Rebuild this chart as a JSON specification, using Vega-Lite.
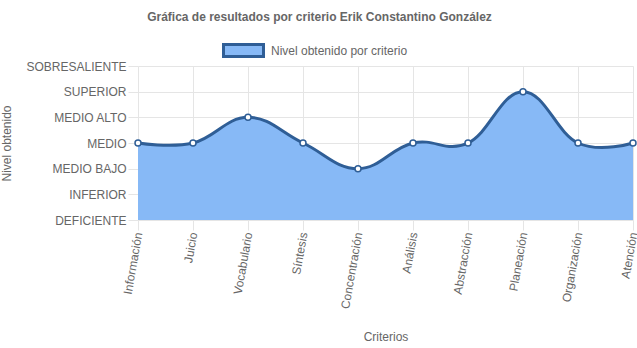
{
  "$schema": "https://vega.github.io/schema/vega-lite/v6.json",
  "width": 495,
  "height": 154,
  "autosize": {"type": "none"},
  "padding": {"left": 138, "top": 66, "right": 4, "bottom": 128},
  "background": "white",
  "config": {
    "font": "Liberation Sans",
    "view": {"stroke": null},
    "axis": {"labelColor": "#666", "titleColor": "#666", "labelFontSize": 12, "titleFontSize": 12, "titleFontWeight": "normal", "gridColor": "#e5e5e5", "tickColor": "#e5e5e5", "domain": false}
  },
  "title": {"text": "Gráfica de resultados por criterio Erik Constantino González", "fontSize": 12, "fontWeight": "bold", "color": "#666", "offset": 5, "dx": -66, "font": "Liberation Sans"},
  "data": {"values": [
    {"criterio": "Información", "nivel": 3},
    {"criterio": "Juicio", "nivel": 3},
    {"criterio": "Vocabulario", "nivel": 4},
    {"criterio": "Síntesis", "nivel": 3},
    {"criterio": "Concentración", "nivel": 2},
    {"criterio": "Análisis", "nivel": 3},
    {"criterio": "Abstracción", "nivel": 3},
    {"criterio": "Planeación", "nivel": 5},
    {"criterio": "Organización", "nivel": 3},
    {"criterio": "Atención", "nivel": 3}
  ]},
  "encoding": {
    "x": {"field": "criterio", "type": "ordinal", "sort": null, "scale": {"type": "point", "padding": 0},
      "axis": {"title": "Criterios", "labelAngle": -80, "labelAlign": "right", "labelBaseline": "middle", "tickSize": 10, "labelPadding": 2, "grid": true, "titlePadding": 22}},
    "y": {"field": "nivel", "type": "quantitative", "scale": {"domain": [0, 6], "nice": false},
      "axis": {"title": "Nivel obtenido", "values": [0,1,2,3,4,5,6], "tickSize": 10, "labelPadding": 2, "grid": true, "titlePadding": 12,
        "labelExpr": "['DEFICIENTE','INFERIOR','MEDIO BAJO','MEDIO','MEDIO ALTO','SUPERIOR','SOBRESALIENTE'][datum.value]"}}
  },
  "layer": [
    {
      "mark": {"type": "area", "interpolate": "cardinal", "tension": -0.2, "fillOpacity": 1},
      "encoding": {
        "fill": {"datum": "Nivel obtenido por criterio", "scale": {"range": ["#87b9f6"]},
          "legend": {"title": null, "orient": "none", "legendX": 84, "legendY": -37, "symbolType": "M-1,-0.3H1V0.3H-1Z", "symbolSize": 1600, "symbolStrokeWidth": 3, "symbolOpacity": 1, "labelFontSize": 12, "labelColor": "#666", "labelFont": "Liberation Sans", "labelOffset": 6}}
      }
    },
    {
      "mark": {"type": "line", "interpolate": "cardinal", "tension": -0.2, "strokeWidth": 3},
      "encoding": {
        "stroke": {"datum": "Nivel obtenido por criterio", "scale": {"range": ["#2f5e96"]},
          "legend": {"title": null, "orient": "none", "legendX": 84, "legendY": -37, "symbolType": "M-1,-0.3H1V0.3H-1Z", "symbolSize": 1600, "symbolStrokeWidth": 3, "symbolOpacity": 1, "labelFontSize": 12, "labelColor": "#666", "labelFont": "Liberation Sans", "labelOffset": 6}}
      }
    },
    {
      "mark": {"type": "point", "filled": true, "fill": "white", "stroke": "#2f5e96", "strokeWidth": 1.5, "size": 36, "opacity": 1}
    }
  ]
}
